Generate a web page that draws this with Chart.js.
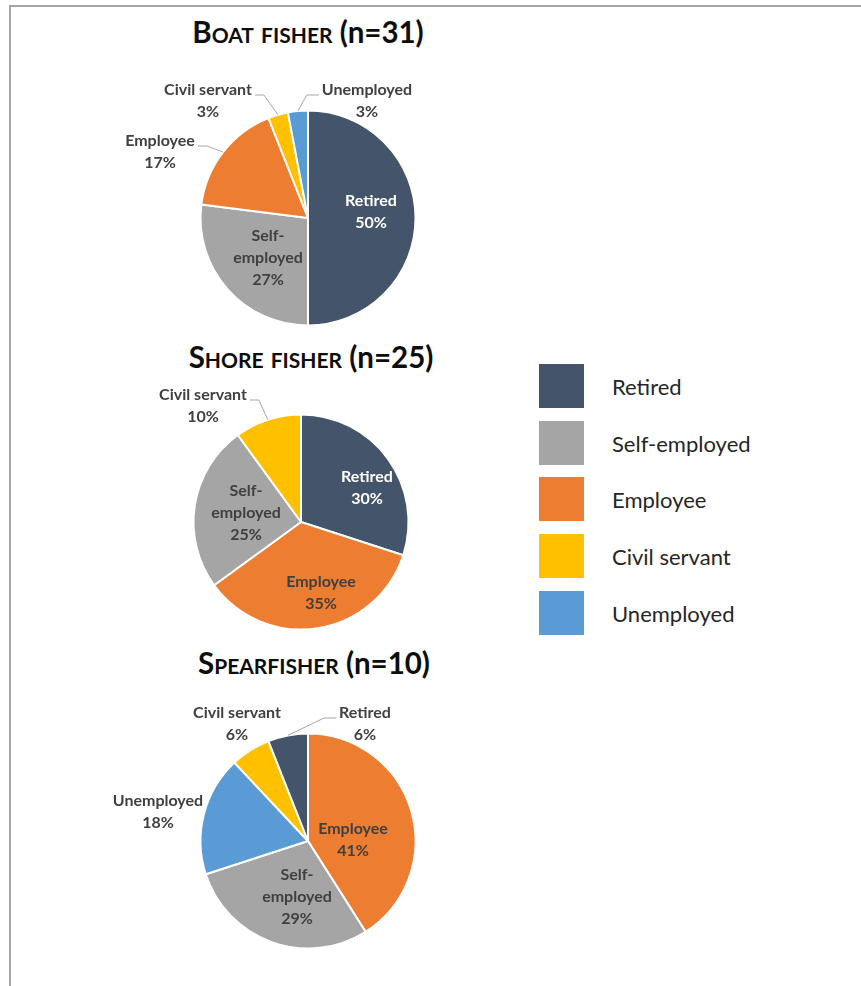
<!DOCTYPE html>
<html>
<head>
<meta charset="utf-8">
<script src="https://cdn.jsdelivr.net/npm/chart.js@4.4.1/dist/chart.umd.min.js"></script>
<style>
    body {
        margin: 0;
        width: 861px;
        height: 986px;
        overflow: hidden;
        background: #fff;
        position: relative;
        font-family: Lato, sans-serif;
    }
    .frame {
        position: absolute;
        left: 9px;
        top: 5px;
        right: -10px;
        bottom: -10px;
        border-top: 2px solid #a5a5a5;
        border-left: 2px solid #a5a5a5;
    }
    .title {
        position: absolute;
        width: 400px;
        text-align: center;
        font-weight: bold;
        font-size: 29.5px;
        line-height: 30px;
        color: #0d0d0d;
        white-space: nowrap;
    }
    .title .sc {
        font-variant: small-caps;
    }
    canvas {
        position: absolute;
    }
    .legend-row {
        position: absolute;
        left: 539px;
        height: 44px;
        display: flex;
        align-items: center;
    }
    .legend-row .box {
        width: 45px;
        height: 44px;
        margin-right: 28px;
    }
    .legend-row span {
        font-size: 22px;
        color: #262626;
    }
</style>
</head>
<body>
<div class="frame"></div>

<div class="title" id="title-boat"></div>
<div class="title" id="title-shore"></div>
<div class="title" id="title-spear"></div>

<canvas id="boat" width="440" height="300"></canvas>
<canvas id="shore" width="440" height="300"></canvas>
<canvas id="spear" width="440" height="300"></canvas>

<div id="legend"></div>

<script>
    // Occupation categories (legend order)
    const categories = ['Retired', 'Self-employed', 'Employee', 'Civil servant', 'Unemployed'];

    // Boat fisher (n=31)
    const boatLabels = ['Retired', 'Self-employed', 'Employee', 'Civil servant', 'Unemployed'];
    const boatValues = [50, 27, 17, 3, 3];

    // Shore fisher (n=25)
    const shoreLabels = ['Retired', 'Employee', 'Self-employed', 'Civil servant'];
    const shoreValues = [30, 35, 25, 10];

    // Spearfisher (n=10)
    const spearLabels = ['Employee', 'Self-employed', 'Unemployed', 'Civil servant', 'Retired'];
    const spearValues = [41, 29, 18, 6, 6];

    const colors = {
        'Retired': '#44546a',
        'Self-employed': '#a5a5a5',
        'Employee': '#ed7d31',
        'Civil servant': '#ffc000',
        'Unemployed': '#5b9bd5'
    };
    const textColors = {
        'Retired': '#ffffff'
    };

    const labelFont = 'bold 16px Lato';
    const lineHeight = 22;

    function splitName(name) {
        if (name.indexOf('-') > 0) {
            const parts = name.split('-');
            return [parts[0] + '-', parts.slice(1).join('-')];
        }
        return [name];
    }

    // Draws the percentage labels, inside the slice or as a callout with a leader line
    const sliceLabels = {
        id: 'sliceLabels',
        afterDatasetsDraw(chart, args, opts) {
            const ctx = chart.ctx;
            const meta = chart.getDatasetMeta(0);
            const names = chart.data.labels;
            const values = chart.data.datasets[0].data;
            const callouts = opts.callouts || {};
            const inside = opts.inside || {};

            ctx.save();
            ctx.font = labelFont;
            ctx.textAlign = 'center';
            ctx.textBaseline = 'middle';

            meta.data.forEach(function (arc, i) {
                const p = arc.getProps(['x', 'y', 'startAngle', 'endAngle', 'outerRadius'], true);
                const mid = (p.startAngle + p.endAngle) / 2;
                const name = names[i];
                const pct = values[i] + '%';
                const c = callouts[name];
                let lines, cx, cy, color;

                if (c) {
                    lines = [name, pct];
                    cx = p.x + c.dx;
                    cy = p.y + c.dy;
                    color = '#404040';
                } else {
                    lines = splitName(name).concat([pct]);
                    if (inside[name]) {
                        cx = p.x + inside[name].dx;
                        cy = p.y + inside[name].dy;
                    } else {
                        const r = p.outerRadius * 0.58;
                        cx = p.x + Math.cos(mid) * r;
                        cy = p.y + Math.sin(mid) * r;
                    }
                    color = textColors[name] || '#404040';
                }

                const top = cy - (lines.length - 1) * lineHeight / 2;
                ctx.fillStyle = color;
                lines.forEach(function (t, k) {
                    ctx.fillText(t, cx, top + k * lineHeight);
                });

                if (c && c.leader) {
                    const w = Math.max.apply(null, lines.map(t => ctx.measureText(t).width));
                    const ex = p.x + Math.cos(mid) * p.outerRadius;
                    const ey = p.y + Math.sin(mid) * p.outerRadius;
                    const sy = top + 5;
                    let sx, kx;
                    if (cx < ex) {
                        sx = cx + w / 2 + 3;
                        kx = sx + 9;
                    } else {
                        sx = cx - w / 2 - 3;
                        kx = sx - 12;
                    }
                    ctx.strokeStyle = '#a6a6a6';
                    ctx.lineWidth = 1;
                    ctx.beginPath();
                    ctx.moveTo(sx, sy);
                    ctx.lineTo(kx, sy);
                    ctx.lineTo(ex, ey);
                    ctx.stroke();
                }
            });
            ctx.restore();
        }
    };

    function makePie(id, cx, cy, labels, values, callouts, inside) {
        const canvas = document.getElementById(id);
        canvas.style.left = (cx - 220) + 'px';
        canvas.style.top = (cy - 150) + 'px';
        return new Chart(canvas, {
            type: 'pie',
            data: {
                labels: labels,
                datasets: [{
                    data: values,
                    backgroundColor: labels.map(l => colors[l]),
                    borderColor: '#ffffff',
                    borderWidth: 2
                }]
            },
            options: {
                responsive: false,
                animation: false,
                radius: 107.5,
                layout: {padding: 0},
                plugins: {
                    legend: {display: false},
                    tooltip: {enabled: false},
                    sliceLabels: {callouts: callouts, inside: inside || {}}
                }
            },
            plugins: [sliceLabels]
        });
    }

    function setTitle(id, cx, top, head, tail) {
        const el = document.getElementById(id);
        el.style.left = (cx - 200) + 'px';
        el.style.top = top + 'px';
        el.innerHTML = '<span class="sc">' + head + '</span> ' + tail;
    }

    setTitle('title-boat', 308, 17, 'Boat fisher', '(n=31)');
    setTitle('title-shore', 311, 342, 'Shore fisher', '(n=25)');
    setTitle('title-spear', 314, 648, 'Spearfisher', '(n=10)');

    makePie('boat', 308, 218, boatLabels, boatValues, {
        'Employee': {dx: -148, dy: -66, leader: true},
        'Civil servant': {dx: -100, dy: -117, leader: true},
        'Unemployed': {dx: 59, dy: -117, leader: true}
    }, {
        'Retired': {dx: 63, dy: -6},
        'Self-employed': {dx: -40, dy: 40}
    });
    makePie('shore', 301, 522, shoreLabels, shoreValues, {
        'Civil servant': {dx: -98, dy: -116, leader: true}
    }, {
        'Retired': {dx: 66, dy: -34},
        'Employee': {dx: 20, dy: 71},
        'Self-employed': {dx: -55, dy: -9}
    });
    makePie('spear', 308, 841, spearLabels, spearValues, {
        'Unemployed': {dx: -150, dy: -29, leader: false},
        'Civil servant': {dx: -71, dy: -117, leader: false},
        'Retired': {dx: 57, dy: -117, leader: true}
    }, {
        'Employee': {dx: 45, dy: -1},
        'Self-employed': {dx: -11, dy: 56}
    });

    // Shared legend
    const legend = document.getElementById('legend');
    categories.forEach(function (name, i) {
        const row = document.createElement('div');
        row.className = 'legend-row';
        row.style.top = Math.round(364 + i * 56.7) + 'px';
        row.innerHTML = '<div class="box" style="background:' + colors[name] + '"></div><span>' + name + '</span>';
        legend.appendChild(row);
    });
</script>
</body>
</html>
